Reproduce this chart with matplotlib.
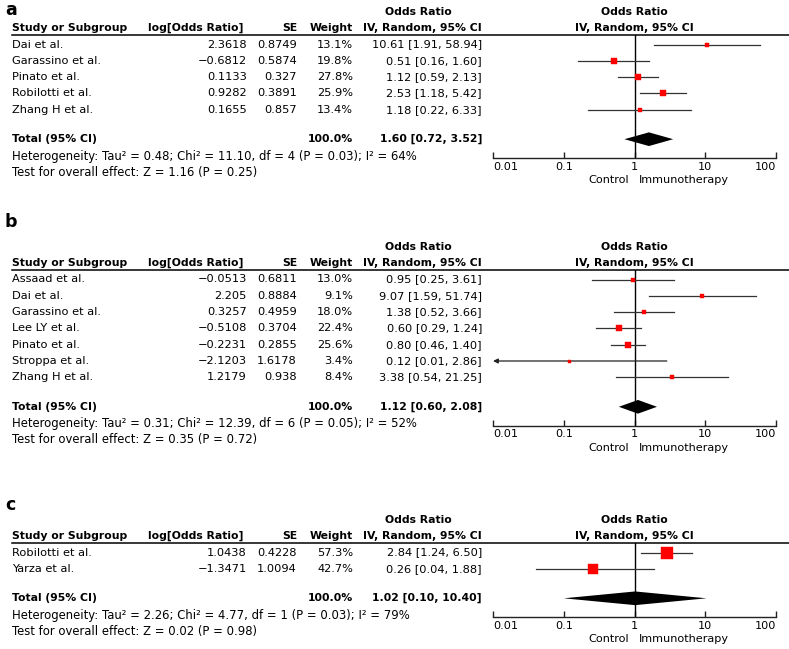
import matplotlib
matplotlib.use('Agg')
import matplotlib.pyplot as plt
from matplotlib.lines import Line2D
from matplotlib.ticker import FixedLocator, NullLocator

plt.rcParams['font.family'] = ['DejaVu Sans']
FS = 8.2      # regular text
FSB = 7.8     # bold headers

# panel a: all studies
studies_a = ['Dai et al.', 'Garassino et al.', 'Pinato et al.', 'Robilotti et al.', 'Zhang H et al.']
logor_a = [2.3618, -0.6812, 0.1133, 0.9282, 0.1655]
se_a = [0.8749, 0.5874, 0.327, 0.3891, 0.857]
weight_a = [13.1, 19.8, 27.8, 25.9, 13.4]
or_a = [10.61, 0.51, 1.12, 2.53, 1.18]
lo_a = [1.91, 0.16, 0.59, 1.18, 0.22]
hi_a = [58.94, 1.60, 2.13, 5.42, 6.33]
total_a = [1.60, 0.72, 3.52]
het_a = 'Heterogeneity: Tau\u00b2 = 0.48; Chi\u00b2 = 11.10, df = 4 (P = 0.03); I\u00b2 = 64%'
test_a = 'Test for overall effect: Z = 1.16 (P = 0.25)'

# panel b
studies_b = ['Assaad et al.', 'Dai et al.', 'Garassino et al.', 'Lee LY et al.',
             'Pinato et al.', 'Stroppa et al.', 'Zhang H et al.']
logor_b = [-0.0513, 2.205, 0.3257, -0.5108, -0.2231, -2.1203, 1.2179]
se_b = [0.6811, 0.8884, 0.4959, 0.3704, 0.2855, 1.6178, 0.938]
weight_b = [13.0, 9.1, 18.0, 22.4, 25.6, 3.4, 8.4]
or_b = [0.95, 9.07, 1.38, 0.60, 0.80, 0.12, 3.38]
lo_b = [0.25, 1.59, 0.52, 0.29, 0.46, 0.01, 0.54]
hi_b = [3.61, 51.74, 3.66, 1.24, 1.40, 2.86, 21.25]
total_b = [1.12, 0.60, 2.08]
het_b = 'Heterogeneity: Tau\u00b2 = 0.31; Chi\u00b2 = 12.39, df = 6 (P = 0.05); I\u00b2 = 52%'
test_b = 'Test for overall effect: Z = 0.35 (P = 0.72)'

# panel c
studies_c = ['Robilotti et al.', 'Yarza et al.']
logor_c = [1.0438, -1.3471]
se_c = [0.4228, 1.0094]
weight_c = [57.3, 42.7]
or_c = [2.84, 0.26]
lo_c = [1.24, 0.04]
hi_c = [6.50, 1.88]
total_c = [1.02, 0.10, 10.40]
het_c = 'Heterogeneity: Tau\u00b2 = 2.26; Chi\u00b2 = 4.77, df = 1 (P = 0.03); I\u00b2 = 79%'
test_c = 'Test for overall effect: Z = 0.02 (P = 0.98)'

ticks = [0.01, 0.1, 1, 10, 100]
tick_labels = ['0.01', '0.1', '1', '10', '100']

W, H = 789, 649
fig = plt.figure(figsize=(W / 100, H / 100), dpi=100)


def fx(x):
    return x / W


def fy(y):
    return 1 - y / H


def txt(x, y, s, ha='left', bold=False, size=None):
    if size is None:
        size = FSB if bold else FS
    fig.text(fx(x), fy(y), s, ha=ha, va='center', fontsize=size,
             fontweight='bold' if bold else 'normal')


def num(v):
    return str(v).replace('-', '\u2212')


ROW = 16.3


def panel(label, label_y, line_y, studies, logor, se, weight, orv, lo, hi, total, het, test):
    txt(5, label_y, label, bold=True, size=12.5)
    # column headers
    txt(418, line_y - 23, 'Odds Ratio', ha='center', bold=True)
    txt(12, line_y - 7, 'Study or Subgroup', bold=True)
    txt(148, line_y - 7, 'log[Odds Ratio]', bold=True)
    txt(297, line_y - 7, 'SE', ha='right', bold=True)
    txt(353, line_y - 7, 'Weight', ha='right', bold=True)
    txt(422, line_y - 7, 'IV, Random, 95% CI', ha='center', bold=True)
    txt(634, line_y - 23, 'Odds Ratio', ha='center', bold=True)
    txt(634, line_y - 7, 'IV, Random, 95% CI', ha='center', bold=True)
    fig.add_artist(Line2D([fx(12), fx(789)], [fy(line_y), fy(line_y)],
                          color='black', lw=1.1))

    first = line_y + 9.5
    n = len(studies)
    for i in range(n):
        y = first + i * ROW
        txt(12, y, studies[i])
        txt(247, y, num(logor[i]), ha='right')
        txt(297, y, num(se[i]), ha='right')
        txt(353, y, f'{weight[i]:.1f}%', ha='right')
        txt(482, y, f'{orv[i]:.2f} [{lo[i]:.2f}, {hi[i]:.2f}]', ha='right')

    total_y = first + (n - 1) * ROW + 29.5
    txt(12, total_y, 'Total (95% CI)', bold=True)
    txt(353, total_y, '100.0%', ha='right', bold=True)
    txt(482, total_y, f'{total[0]:.2f} [{total[1]:.2f}, {total[2]:.2f}]', ha='right', bold=True)
    txt(12, total_y + 17, het, size=8.4)
    txt(12, total_y + 33, test, size=8.4)

    axis_y = total_y + 19
    ax = fig.add_axes([fx(493), fy(axis_y), (776 - 493) / W, (axis_y - line_y) / H])
    ax.patch.set_alpha(0)
    ax.set_xscale('log')
    ax.set_xlim(0.01, 100)
    ax.set_ylim((axis_y - first) / ROW, (line_y - first) / ROW)
    for s in ['top', 'left', 'right']:
        ax.spines[s].set_visible(False)
    ax.spines['bottom'].set_color('#222222')
    ax.spines['bottom'].set_linewidth(1.0)
    ax.xaxis.set_major_locator(FixedLocator(ticks))
    ax.xaxis.set_minor_locator(NullLocator())
    ax.set_xticklabels(tick_labels)
    labs = ax.get_xticklabels()
    labs[0].set_ha('left')
    labs[-1].set_ha('right')
    ax.tick_params(axis='x', direction='in', length=4.5, width=1.0, color='#222222',
                   labelsize=8.1, pad=2.5)
    ax.set_yticks([])
    ax.axvline(1, color='black', lw=1.0)

    for i in range(n):
        if lo[i] <= 0.01:
            ax.annotate('', xy=(0.01, i), xytext=(hi[i], i),
                        arrowprops=dict(arrowstyle='-|>', color='#222222', lw=0.9,
                                        mutation_scale=7, shrinkA=0, shrinkB=0))
        else:
            ax.plot([lo[i], hi[i]], [i, i], color='#333333', lw=0.9)
        side = max(3.0, 1.6 + 0.18 * weight[i])
        ax.plot(orv[i], i, marker='s', ms=side * 0.72, color='#ff0000',
                mec='#ff0000', mew=0.3, ls='none', zorder=3)

    t = (total_y - first) / ROW
    h = 0.42
    ax.fill([total[1], total[0], total[2], total[0]], [t, t - h, t, t + h],
            color='black', lw=0)

    cy = axis_y + 22
    txt(629, cy, 'Control', ha='right', size=8.1)
    txt(639, cy, 'Immunotherapy', size=8.1)


panel('a', 10, 35, studies_a, logor_a, se_a, weight_a, or_a, lo_a, hi_a, total_a, het_a, test_a)
panel('b', 222, 270, studies_b, logor_b, se_b, weight_b, or_b, lo_b, hi_b, total_b, het_b, test_b)
panel('c', 505, 543, studies_c, logor_c, se_c, weight_c, or_c, lo_c, hi_c, total_c, het_c, test_c)

fig.savefig('out.png', dpi=100)
